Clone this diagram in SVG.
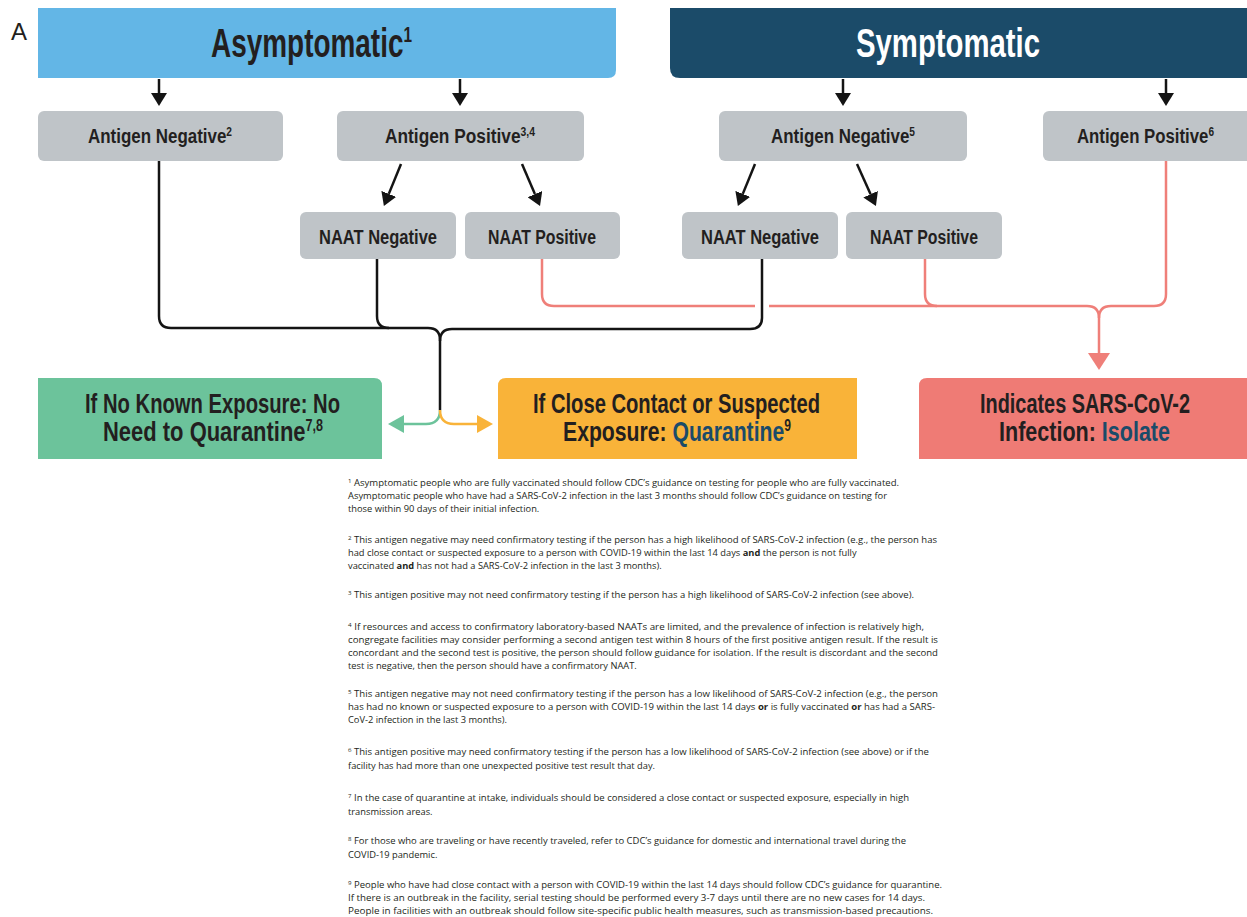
<svg xmlns="http://www.w3.org/2000/svg" width="1247" height="917" viewBox="0 0 1247 917">
<style>
.lbl{font-family:"Liberation Sans",Arial,sans-serif;font-weight:bold;fill:#231f20}
.hdr{font-size:40px}
.box{font-size:20px}
.big{font-size:28px}
.fn{font-family:"Open Sans","Liberation Sans",sans-serif;font-size:9.3px;fill:#231f20}
.fn .s{font-size:6px}
.b{font-weight:bold}
.gray{fill:#bfc4c8}
.blk{fill:none;stroke:#141414;stroke-width:2.5}
.red{fill:none;stroke:#ef7f79;stroke-width:2.5}
</style>
<defs>
<marker id="ab" markerUnits="userSpaceOnUse" markerWidth="13" markerHeight="16" viewBox="0 0 13 16" refX="0" refY="8" orient="auto"><path d="M0,0 L13,8 L0,16 Z" fill="#141414"/></marker>
<marker id="ar" markerUnits="userSpaceOnUse" markerWidth="17" markerHeight="22" viewBox="0 0 17 22" refX="0" refY="11" orient="auto"><path d="M0,0 L17,11 L0,22 Z" fill="#ef7f79"/></marker>
<marker id="ag" markerUnits="userSpaceOnUse" markerWidth="16" markerHeight="18" viewBox="0 0 16 18" refX="0" refY="9" orient="auto"><path d="M0,0 L16,9 L0,18 Z" fill="#6cc39b"/></marker>
<marker id="ao" markerUnits="userSpaceOnUse" markerWidth="16" markerHeight="18" viewBox="0 0 16 18" refX="0" refY="9" orient="auto"><path d="M0,0 L16,9 L0,18 Z" fill="#f9b339"/></marker>
</defs>
<rect width="1247" height="917" fill="#ffffff"/>
<text x="11" y="40" font-family="Liberation Sans,Arial,sans-serif" font-size="24" fill="#231f20">A</text>

<g id="asymptomatic">
<path d="M38,8 H616 V70 Q616,78 608,78 H38 Z" fill="#63b6e6"/>
<text class="lbl hdr" x="211" y="57" textLength="201" lengthAdjust="spacingAndGlyphs">Asymptomatic<tspan font-size="22" dy="-15">1</tspan></text>
</g>
<g id="symptomatic">
<path d="M670,8 H1247 V78 H680 Q670,78 670,68 Z" fill="#1b4b69"/>
<text class="lbl hdr" x="856" y="57" textLength="184" lengthAdjust="spacingAndGlyphs" style="fill:#ffffff">Symptomatic</text>
</g>

<g id="a-antigen-negative">
<rect class="gray" x="38" y="111" width="245" height="50" rx="6"/>
<text class="lbl box" x="88" y="143" textLength="144" lengthAdjust="spacingAndGlyphs">Antigen Negative<tspan font-size="12" dy="-7">2</tspan></text>
</g>
<g id="a-antigen-positive">
<rect class="gray" x="337" y="111" width="247" height="50" rx="6"/>
<text class="lbl box" x="385" y="143" textLength="150" lengthAdjust="spacingAndGlyphs">Antigen Positive<tspan font-size="12" dy="-7">3,4</tspan></text>
</g>
<g id="s-antigen-negative">
<rect class="gray" x="719" y="111" width="248" height="50" rx="6"/>
<text class="lbl box" x="771" y="143" textLength="144" lengthAdjust="spacingAndGlyphs">Antigen Negative<tspan font-size="12" dy="-7">5</tspan></text>
</g>
<g id="s-antigen-positive">
<rect class="gray" x="1043" y="111" width="250" height="50" rx="6"/>
<text class="lbl box" x="1077" y="143" textLength="137" lengthAdjust="spacingAndGlyphs">Antigen Positive<tspan font-size="12" dy="-7">6</tspan></text>
</g>

<g id="a-naat-negative">
<rect class="gray" x="300" y="212" width="156" height="47" rx="6"/>
<text class="lbl box" x="319" y="244" textLength="118" lengthAdjust="spacingAndGlyphs">NAAT Negative</text>
</g>
<g id="a-naat-positive">
<rect class="gray" x="465" y="212" width="155" height="47" rx="6"/>
<text class="lbl box" x="488" y="244" textLength="108" lengthAdjust="spacingAndGlyphs">NAAT Positive</text>
</g>
<g id="s-naat-negative">
<rect class="gray" x="682" y="212" width="156" height="47" rx="6"/>
<text class="lbl box" x="701" y="244" textLength="118" lengthAdjust="spacingAndGlyphs">NAAT Negative</text>
</g>
<g id="s-naat-positive">
<rect class="gray" x="846" y="212" width="156" height="47" rx="6"/>
<text class="lbl box" x="870" y="244" textLength="108" lengthAdjust="spacingAndGlyphs">NAAT Positive</text>
</g>

<g id="no-quarantine">
<path d="M38,378 H374 Q382,378 382,386 V459 H38 Z" fill="#6cc39b"/>
<text class="lbl big" x="85" y="413" textLength="255" lengthAdjust="spacingAndGlyphs">If No Known Exposure: No</text>
<text class="lbl big" x="103" y="441" textLength="220" lengthAdjust="spacingAndGlyphs">Need to Quarantine<tspan font-size="16" dy="-10">7,8</tspan></text>
</g>
<g id="quarantine">
<path d="M506,378 H857 V459 H498 V386 Q498,378 506,378 Z" fill="#f9b339"/>
<text class="lbl big" x="533" y="413" textLength="287" lengthAdjust="spacingAndGlyphs">If Close Contact or Suspected</text>
<text class="lbl big" x="563" y="441" textLength="228" lengthAdjust="spacingAndGlyphs">Exposure: <tspan fill="#1b4b69">Quarantine</tspan><tspan font-size="16" dy="-10">9</tspan></text>
</g>
<g id="isolate">
<path d="M927,378 H1247 V459 H919 V386 Q919,378 927,378 Z" fill="#ef7b75"/>
<text class="lbl big" x="980" y="413" textLength="210" lengthAdjust="spacingAndGlyphs">Indicates SARS-CoV-2</text>
<text class="lbl big" x="999" y="441" textLength="171" lengthAdjust="spacingAndGlyphs">Infection: <tspan fill="#1b4b69">Isolate</tspan></text>
</g>

<g id="connectors">
<line class="blk" x1="159" y1="79" x2="159" y2="93" marker-end="url(#ab)"/>
<line class="blk" x1="460" y1="79" x2="460" y2="93" marker-end="url(#ab)"/>
<line class="blk" x1="843" y1="79" x2="843" y2="93" marker-end="url(#ab)"/>
<line class="blk" x1="1166" y1="79" x2="1166" y2="93" marker-end="url(#ab)"/>
<line class="blk" x1="401" y1="164" x2="388.8" y2="193.9" marker-end="url(#ab)"/>
<line class="blk" x1="522" y1="164" x2="534.9" y2="194.1" marker-end="url(#ab)"/>
<line class="blk" x1="755" y1="164" x2="742.8" y2="193.9" marker-end="url(#ab)"/>
<line class="blk" x1="857" y1="164" x2="870.6" y2="194.2" marker-end="url(#ab)"/>

<path class="red" d="M542,259 V294 Q542,306 554,306 H755"/>
<path class="red" d="M769,306 H1087 Q1099,306 1099,318 V353" marker-end="url(#ar)"/>
<path class="red" d="M925,259 V294 Q925,306 937,306"/>
<path class="red" d="M1166,161 V294 Q1166,306 1154,306 H1111 Q1099,306 1099,318"/>

<path class="blk" d="M159,161 V316 Q159,328 171,328 H428 Q440,328 440,340 V410"/>
<path class="blk" d="M377,259 V316 Q377,328 389,328"/>
<path class="blk" d="M762,259 V318 Q762,329 750,329 H452 Q440,329 440,341"/>

<path d="M440,410 Q440,424 426,424 H404" fill="none" stroke="#6cc39b" stroke-width="2.5" marker-end="url(#ag)"/>
<path d="M440,410 Q440,424 454,424 H477" fill="none" stroke="#f9b339" stroke-width="2.5" marker-end="url(#ao)"/>
</g>

<g id="footnotes" class="fn">
<text x="348" y="486" textLength="551" lengthAdjust="spacingAndGlyphs"><tspan class="s" dy="-3">1</tspan><tspan dy="3"> Asymptomatic people who are fully vaccinated should follow CDC’s guidance on testing for people who are fully vaccinated.</tspan></text>
<text x="348" y="499" textLength="539" lengthAdjust="spacingAndGlyphs">Asymptomatic people who have had a SARS-CoV-2 infection in the last 3 months should follow CDC’s guidance on testing for</text>
<text x="348" y="512">those within 90 days of their initial infection.</text>

<text x="348" y="543" textLength="589" lengthAdjust="spacingAndGlyphs"><tspan class="s" dy="-3">2</tspan><tspan dy="3"> This antigen negative may need confirmatory testing if the person has a high likelihood of SARS-CoV-2 infection (e.g., the person has</tspan></text>
<text x="348" y="556">had close contact or suspected exposure to a person with COVID-19 within the last 14 days <tspan class="b">and</tspan> the person is not fully</text>
<text x="348" y="569">vaccinated <tspan class="b">and</tspan> has not had a SARS-CoV-2 infection in the last 3 months).</text>

<text x="348" y="598" textLength="566" lengthAdjust="spacingAndGlyphs"><tspan class="s" dy="-3">3</tspan><tspan dy="3"> This antigen positive may not need confirmatory testing if the person has a high likelihood of SARS-CoV-2 infection (see above).</tspan></text>

<text x="348" y="630" textLength="576" lengthAdjust="spacingAndGlyphs"><tspan class="s" dy="-3">4</tspan><tspan dy="3"> If resources and access to confirmatory laboratory-based NAATs are limited, and the prevalence of infection is relatively high,</tspan></text>
<text x="348" y="643" textLength="590" lengthAdjust="spacingAndGlyphs">congregate facilities may consider performing a second antigen test within 8 hours of the first positive antigen result. If the result is</text>
<text x="348" y="656" textLength="590" lengthAdjust="spacingAndGlyphs">concordant and the second test is positive, the person should follow guidance for isolation. If the result is discordant and the second</text>
<text x="348" y="669">test is negative, then the person should have a confirmatory NAAT.</text>

<text x="348" y="697" textLength="590" lengthAdjust="spacingAndGlyphs"><tspan class="s" dy="-3">5</tspan><tspan dy="3"> This antigen negative may not need confirmatory testing if the person has a low likelihood of SARS-CoV-2 infection (e.g., the person</tspan></text>
<text x="348" y="710" textLength="587" lengthAdjust="spacingAndGlyphs">has had no known or suspected exposure to a person with COVID-19 within the last 14 days <tspan class="b">or</tspan> is fully vaccinated <tspan class="b">or</tspan> has had a SARS-</text>
<text x="348" y="723">CoV-2 infection in the last 3 months).</text>

<text x="348" y="755" textLength="581" lengthAdjust="spacingAndGlyphs"><tspan class="s" dy="-3">6</tspan><tspan dy="3"> This antigen positive may need confirmatory testing if the person has a low likelihood of SARS-CoV-2 infection (see above) or if the</tspan></text>
<text x="348" y="769">facility has had more than one unexpected positive test result that day.</text>

<text x="348" y="801" textLength="561" lengthAdjust="spacingAndGlyphs"><tspan class="s" dy="-3">7</tspan><tspan dy="3"> In the case of quarantine at intake, individuals should be considered a close contact or suspected exposure, especially in high</tspan></text>
<text x="348" y="815">transmission areas.</text>

<text x="348" y="844" textLength="558" lengthAdjust="spacingAndGlyphs"><tspan class="s" dy="-3">8</tspan><tspan dy="3"> For those who are traveling or have recently traveled, refer to CDC’s guidance for domestic and international travel during the</tspan></text>
<text x="348" y="858">COVID-19 pandemic.</text>

<text x="348" y="888" textLength="594" lengthAdjust="spacingAndGlyphs"><tspan class="s" dy="-3">9</tspan><tspan dy="3"> People who have had close contact with a person with COVID-19 within the last 14 days should follow CDC’s guidance for quarantine.</tspan></text>
<text x="348" y="901" textLength="577" lengthAdjust="spacingAndGlyphs">If there is an outbreak in the facility, serial testing should be performed every 3-7 days until there are no new cases for 14 days.</text>
<text x="348" y="914" textLength="585" lengthAdjust="spacingAndGlyphs">People in facilities with an outbreak should follow site-specific public health measures, such as transmission-based precautions.</text>
</g>
</svg>
